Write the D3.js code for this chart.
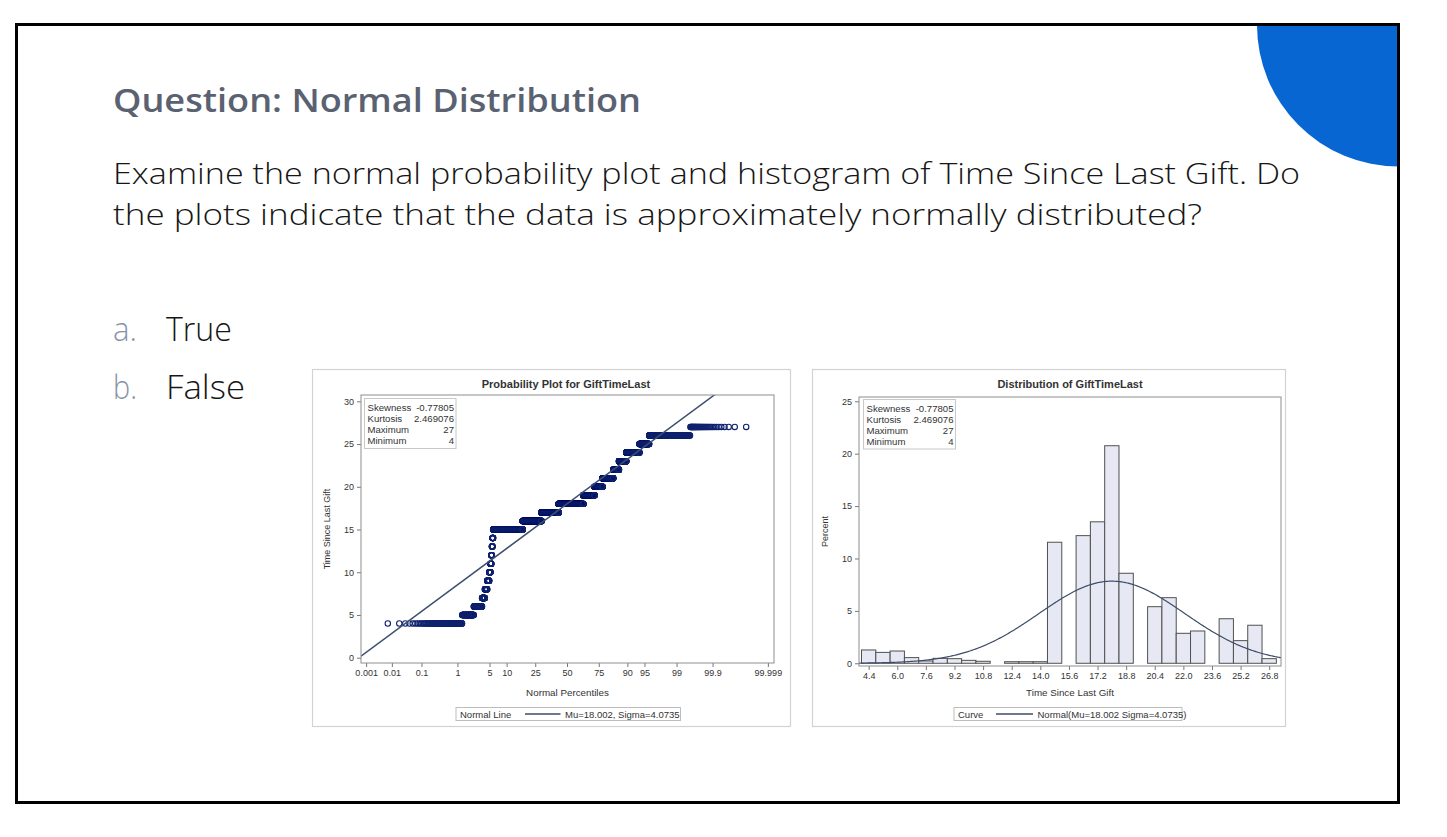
<!DOCTYPE html>
<html><head><meta charset="utf-8">
<script src="https://cdn.jsdelivr.net/npm/d3@7"></script>
<style>
body{margin:0;background:#fff;}
svg{display:block;}
</style>
</head><body>
<svg id="c" width="1447" height="837"></svg>
<script>
// ---------------- data ----------------
const giftValues   = [4,5,6,7,8,9,10,11,12,13,14,15,16,17,18,19,20,21,22,23,24,25,26,27];
const giftPercents = [1.30,1.10,1.18,0.50,0.45,0.42,0.28,0.18,0.15,0.15,0.15,11.55,12.18,13.50,20.76,8.59,5.40,6.26,2.86,3.08,4.25,2.16,3.63,0.44];
const sampleSize = 8800;

const histMidpoints = [4.4,5.2,6.0,6.8,7.6,8.4,9.2,10.0,10.8,11.6,12.4,13.2,14.0,14.8,15.6,16.4,17.2,18.0,18.8,19.6,20.4,21.2,22.0,22.8,23.6,24.4,25.2,26.0,26.8];
const histPercents  = [1.27,1.04,1.17,0.54,0.22,0.47,0.44,0.28,0.19,0,0.15,0.15,0.15,11.55,0,12.18,13.50,20.76,8.59,0,5.40,6.26,2.86,3.08,0,4.25,2.16,3.63,0.44];
const histBinWidth = 0.8;
const histTickLabels = ["4.4","6.0","7.6","9.2","10.8","12.4","14.0","15.6","17.2","18.8","20.4","22.0","23.6","25.2","26.8"];
const histYTicks = [0,5,10,15,20,25];

const percentileTicks  = [0.001,0.01,0.1,1,5,10,25,50,75,90,95,99,99.9,99.999];
const percentileLabels = ["0.001","0.01","0.1","1","5","10","25","50","75","90","95","99","99.9","99.999"];
const probYTicks = [0,5,10,15,20,25,30];

const statLabels = ["Skewness","Kurtosis","Maximum","Minimum"];
const statValues = ["-0.77805","2.469076","27","4"];
const mu = 18.002, sigma = 4.0735;

const slideTitle = "Question: Normal Distribution";
const slideBody = ["Examine the normal probability plot and histogram of Time Since Last Gift. Do",
                   "the plots indicate that the data is approximately normally distributed?"];
const optionLetters = ["a.","b."];
const optionTexts = ["True","False"];

// ---------------- helpers ----------------
function probit(p){
  const a=[-3.969683028665376e+01,2.209460984245205e+02,-2.759285104469687e+02,1.383577518672690e+02,-3.066479806614716e+01,2.506628277459239e+00];
  const b=[-5.447609879822406e+01,1.615858368580409e+02,-1.556989798598866e+02,6.680131188771972e+01,-1.328068155288572e+01];
  const c=[-7.784894002430293e-03,-3.223964580411365e-01,-2.400758277161838e+00,-2.549732539343734e+00,4.374664141464968e+00,2.938163982698783e+00];
  const d=[7.784695709041462e-03,3.224671290700398e-01,2.445134137142996e+00,3.754408661907416e+00];
  const pl=0.02425, ph=1-pl; let q,r;
  if(p<pl){q=Math.sqrt(-2*Math.log(p));return (((((c[0]*q+c[1])*q+c[2])*q+c[3])*q+c[4])*q+c[5])/((((d[0]*q+d[1])*q+d[2])*q+d[3])*q+1);}
  if(p<=ph){q=p-0.5;r=q*q;return (((((a[0]*r+a[1])*r+a[2])*r+a[3])*r+a[4])*r+a[5])*q/(((((b[0]*r+b[1])*r+b[2])*r+b[3])*r+b[4])*r+1);}
  q=Math.sqrt(-2*Math.log(1-p));return -(((((c[0]*q+c[1])*q+c[2])*q+c[3])*q+c[4])*q+c[5])/((((d[0]*q+d[1])*q+d[2])*q+d[3])*q+1);
}
const normPdf = (x)=>Math.exp(-0.5*((x-mu)/sigma)**2)/(sigma*Math.sqrt(2*Math.PI));

const svg = d3.select("#c");
const CF = "'Liberation Sans', Arial, sans-serif";
const SF = "'Open Sans', 'Noto Sans', sans-serif";
svg.append("rect").attr("width",1447).attr("height",837).attr("fill","#fff");

// ---------------- slide ----------------
const defs = svg.append("defs");
defs.append("clipPath").attr("id","slideClip").append("rect").attr("x",18).attr("y",26).attr("width",1380).attr("height",775);
svg.append("circle").attr("clip-path","url(#slideClip)").attr("cx",1398.5).attr("cy",25).attr("r",141.5).attr("fill","#0866d2");
svg.append("rect").attr("x",16.5).attr("y",24.5).attr("width",1382).attr("height",778)
   .attr("fill","none").attr("stroke","#000").attr("stroke-width",3);

svg.append("text").attr("x",113).attr("y",112).text(slideTitle)
   .attr("font-family",SF).attr("font-weight",600).attr("font-size",32).attr("fill","#5a6272")
   .attr("textLength",528).attr("lengthAdjust","spacingAndGlyphs");
const bodyLens=[1187,1089];
slideBody.forEach((t,i)=>{
  svg.append("text").attr("x",113).attr("y",184+41*i).text(t)
   .attr("font-family",SF).attr("font-weight",300).attr("font-size",30).attr("fill","#161616")
   .attr("textLength",bodyLens[i]).attr("lengthAdjust","spacingAndGlyphs");
});
const optLens=[66,79];
optionLetters.forEach((l,i)=>{
  const y = 341+58*i;
  svg.append("text").attr("x",113).attr("y",y).text(l)
    .attr("font-family",SF).attr("font-weight",300).attr("font-size",33).attr("fill","#8a93a5")
    .attr("textLength",24).attr("lengthAdjust","spacingAndGlyphs");
  svg.append("text").attr("x",166).attr("y",y).text(optionTexts[i])
    .attr("font-family",SF).attr("font-weight",300).attr("font-size",33).attr("fill","#161616")
    .attr("textLength",optLens[i]).attr("lengthAdjust","spacingAndGlyphs");
});

// ---------------- shared panel helpers ----------------
function panel(x0,x1,title,titleX){
  svg.append("rect").attr("x",x0+0.5).attr("y",369.5).attr("width",x1-x0).attr("height",357)
    .attr("fill","#fff").attr("stroke","#d2d2d2").attr("stroke-width",1.2);
  svg.append("text").attr("x",titleX).attr("y",388).attr("text-anchor","middle").text(title)
    .attr("font-family",CF).attr("font-weight",700).attr("font-size",11).attr("fill","#333");
}
function styleAxis(g){
  g.select(".domain").remove();
  g.selectAll(".tick line").attr("stroke","#777");
  g.selectAll(".tick text").attr("font-family",CF).attr("font-size",9).attr("fill","#333");
}
function statsBox(x,y,w,h){
  svg.append("rect").attr("x",x).attr("y",y).attr("width",w).attr("height",h)
    .attr("fill","#fff").attr("stroke","#c8c8c8").attr("stroke-width",1);
  statLabels.forEach((l,i)=>{
    const by = y+12+11.3*i;
    svg.append("text").attr("x",x+3).attr("y",by).text(l)
      .attr("font-family",CF).attr("font-size",9.6).attr("fill","#333");
    svg.append("text").attr("x",x+w-2).attr("y",by).attr("text-anchor","end").text(statValues[i])
      .attr("font-family",CF).attr("font-size",9.6).attr("fill","#333");
  });
}
function legend(x0,x1,label,lx0,lx1,text){
  svg.append("rect").attr("x",x0).attr("y",707.5).attr("width",x1-x0).attr("height",13)
    .attr("fill","#fff").attr("stroke","#bdbdbd").attr("stroke-width",1);
  svg.append("text").attr("x",x0+4).attr("y",717.5).text(label)
    .attr("font-family",CF).attr("font-size",9.5).attr("fill","#333");
  svg.append("line").attr("x1",lx0).attr("x2",lx1).attr("y1",714).attr("y2",714)
    .attr("stroke","#3e4c68").attr("stroke-width",1.3);
  svg.append("text").attr("x",lx1+4.5).attr("y",717.5).text(text)
    .attr("font-family",CF).attr("font-size",9.5).attr("fill","#333");
}

// ---------------- left: probability plot ----------------
panel(312,790,"Probability Plot for GiftTimeLast",566);
const L = {x0:361,x1:774,y0:395,y1:663};
const xz = d3.scaleLinear().domain([-4.374,4.395]).range([L.x0,L.x1]);
const yL = d3.scaleLinear().domain([-0.62,30.74]).range([L.y1,L.y0]);
defs.append("clipPath").attr("id","clipL").append("rect").attr("x",L.x0).attr("y",L.y0).attr("width",L.x1-L.x0).attr("height",L.y1-L.y0);

const gxL = svg.append("g").attr("transform",`translate(0,${L.y1})`)
  .call(d3.axisBottom(xz).tickValues(percentileTicks.map(p=>probit(p/100))).tickFormat((d,i)=>percentileLabels[i]).tickSize(4).tickPadding(3));
styleAxis(gxL);
const gyL = svg.append("g").attr("transform",`translate(${L.x0},0)`)
  .call(d3.axisLeft(yL).tickValues(probYTicks).tickSize(4).tickPadding(3));
styleAxis(gyL);

// sorted sample from value counts
const pctSum = d3.sum(giftPercents);
const sorted = [];
giftValues.forEach((v,i)=>{ const n=Math.round(giftPercents[i]/pctSum*sampleSize); for(let k=0;k<n;k++) sorted.push(v); });
const nObs = sorted.length;
const pts = sorted.map((v,i)=>({z:probit((i+1-0.375)/(nObs+0.25)), v}));

const plotL = svg.append("g").attr("clip-path","url(#clipL)");
plotL.append("g").selectAll("circle").data(pts).join("circle")
  .attr("cx",d=>xz(d.z)).attr("cy",d=>yL(d.v)).attr("r",2.7)
  .attr("fill","none").attr("stroke","#10226e").attr("stroke-width",1.1);
plotL.append("path").datum(xz.domain())
  .attr("d",d3.line().x(z=>xz(z)).y(z=>yL(mu+sigma*z)))
  .attr("fill","none").attr("stroke","#3e5070").attr("stroke-width",1.5);

svg.append("rect").attr("x",L.x0).attr("y",L.y0).attr("width",L.x1-L.x0).attr("height",L.y1-L.y0)
  .attr("fill","none").attr("stroke","#8e8e8e").attr("stroke-width",1);
statsBox(364.5,398.5,91.5,50);
svg.append("text").attr("transform",`translate(330,${(L.y0+L.y1)/2}) rotate(-90)`).attr("text-anchor","middle")
  .text("Time Since Last Gift").attr("font-family",CF).attr("font-size",9).attr("fill","#333");
svg.append("text").attr("x",(L.x0+L.x1)/2).attr("y",695.5).attr("text-anchor","middle")
  .text("Normal Percentiles").attr("font-family",CF).attr("font-size",9.8).attr("fill","#333");
legend(456,680.5,"Normal Line",525,560.5,"Mu=18.002, Sigma=4.0735");

// ---------------- right: histogram ----------------
panel(812,1285,"Distribution of GiftTimeLast",1070);
const R = {x0:859,x1:1281,y0:397,y1:666};
const xR = d3.scaleLinear().domain([3.86,27.46]).range([R.x0,R.x1]);
const yR = d3.scaleLinear().domain([-0.26,25.41]).range([R.y1,R.y0]);
defs.append("clipPath").attr("id","clipR").append("rect").attr("x",R.x0).attr("y",R.y0).attr("width",R.x1-R.x0).attr("height",R.y1-R.y0);

const gxR = svg.append("g").attr("transform",`translate(0,${R.y1})`)
  .call(d3.axisBottom(xR).tickValues(histTickLabels.map(Number)).tickFormat((d,i)=>histTickLabels[i]).tickSize(4).tickPadding(3));
styleAxis(gxR);
const gyR = svg.append("g").attr("transform",`translate(${R.x0},0)`)
  .call(d3.axisLeft(yR).tickValues(histYTicks).tickSize(4).tickPadding(3));
styleAxis(gyR);

const bins = histMidpoints.map((m,i)=>({m,p:histPercents[i]})).filter(d=>d.p>0);
const plotR = svg.append("g").attr("clip-path","url(#clipR)");
plotR.selectAll("rect").data(bins).join("rect")
  .attr("x",d=>xR(d.m-histBinWidth/2)).attr("width",d=>xR(d.m+histBinWidth/2)-xR(d.m-histBinWidth/2))
  .attr("y",d=>yR(d.p)).attr("height",d=>yR(0)-yR(d.p))
  .attr("fill","#e6e9f3").attr("stroke","#505050").attr("stroke-width",1);
const curveXs = d3.range(xR.domain()[0], xR.domain()[1]+0.001, 0.05);
plotR.append("path").datum(curveXs)
  .attr("d",d3.line().x(x=>xR(x)).y(x=>yR(100*histBinWidth*normPdf(x))))
  .attr("fill","none").attr("stroke","#3e4c68").attr("stroke-width",1.2);

svg.append("rect").attr("x",R.x0).attr("y",R.y0).attr("width",R.x1-R.x0).attr("height",R.y1-R.y0)
  .attr("fill","none").attr("stroke","#8e8e8e").attr("stroke-width",1);
statsBox(863.5,399.5,92,49.5);
svg.append("text").attr("transform",`translate(828,${(R.y0+R.y1)/2}) rotate(-90)`).attr("text-anchor","middle")
  .text("Percent").attr("font-family",CF).attr("font-size",9).attr("fill","#333");
svg.append("text").attr("x",(R.x0+R.x1)/2).attr("y",695.5).attr("text-anchor","middle")
  .text("Time Since Last Gift").attr("font-family",CF).attr("font-size",9.8).attr("fill","#333");
legend(954,1182,"Curve",996,1033,"Normal(Mu=18.002 Sigma=4.0735)");
</script>
</body></html>
